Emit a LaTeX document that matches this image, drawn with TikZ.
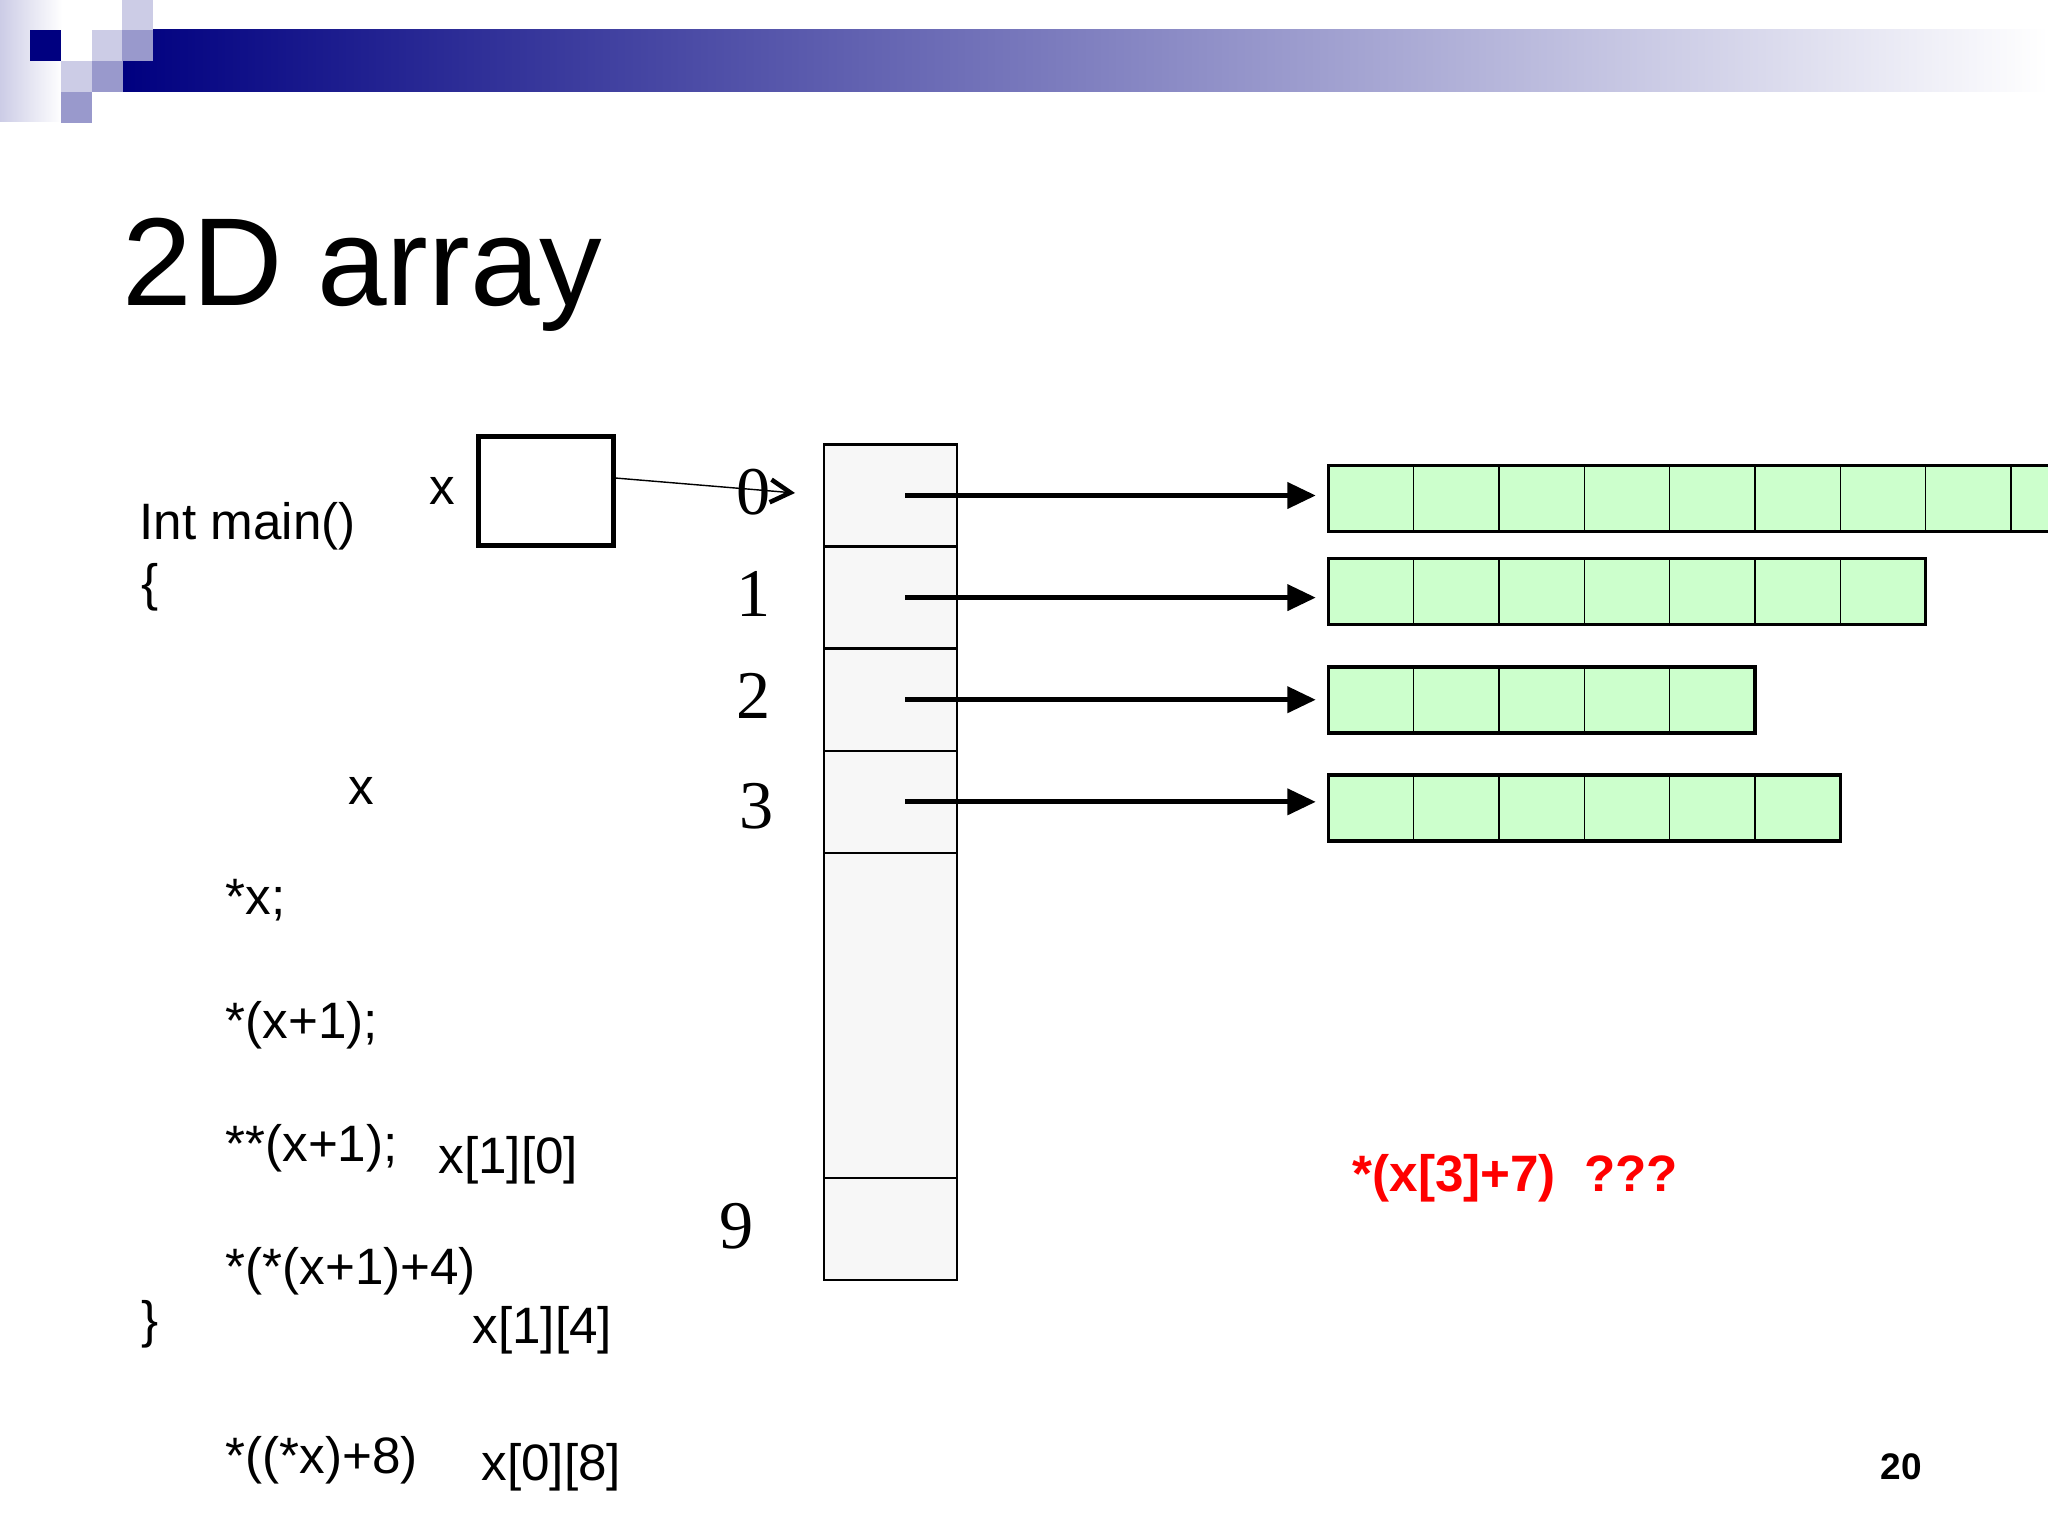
\documentclass[tikz,border=0pt]{standalone}
\usepackage{fontspec}
\setmainfont{Liberation Sans}
\newfontfamily\numfont{Liberation Serif}
\usepackage{tikz}
\usetikzlibrary{                          % TikZ libraries
                arrows.meta,              % .
                positioning,              % .
                calc}
\usepackage{xcolor}
\definecolor{navy}{RGB}{0,0,128}
\definecolor{lavlight}{RGB}{204,204,230}
\definecolor{lavmid}{RGB}{153,153,204}
\definecolor{cellgrey}{RGB}{247,247,247}
\definecolor{rowgreen}{RGB}{204,255,204}

\begin{document}
\begin{tikzpicture}[x=0.3515625pt,y=-0.3515625pt
                    ]
                % define styles
\tikzset{code/.style={anchor=base west,
                       inner sep=0,
                       font=\fontsize{18}{20}\selectfont,
                       },
         idx/.style={anchor=base,
                       inner sep=0,
                       font=\numfont\fontsize{24}{26}\selectfont,
                       },
         slot/.style={rectangle,
                       draw=black,
                       fill=cellgrey,
                       line width=0.9pt,
                       outer sep=0,
                       minimum width=46.8pt,
                       minimum height=35.9pt,
                       },
         elem/.style={rectangle,
                       draw=black,
                       fill=rowgreen,
                       line width=0.5pt,
                       outer sep=0,
                       minimum width=30pt,
                       minimum height=23.2pt,
                       },
         ptr/.style={line width=1.8pt,
                       -{Triangle[length=10pt,width=9pt]},
                       shorten >=4.4pt,
                       }
}

% page
\fill[white] (0,0) rectangle (2048,1536);
\useasboundingbox (0,0) rectangle (2048,1536);

% header bar
\shade[left color=lavlight, right color=white] (0,0) rectangle (62,122);
\shade[left color=navy, right color=white] (123,30) rectangle (2048,92);
\foreach \xx/\yy/\col in {30/30/navy, 92/30/lavlight, 122/0/lavlight, 122/30/lavmid,
                          61/61/lavlight, 92/61/lavmid, 61/92/lavmid}
    \fill[\col] (\xx,\yy) rectangle ++(31,31);

% title
\node[anchor=base west, inner sep=0, font=\fontsize{44}{48}\selectfont] (title) at (122,306) {2D array};

% code lines
\node[code] (main)   at (139,540)  {Int main()};
\node[code] (lbrace) at (141,601)  {\{};
\node[code] (xmid)   at (348,804)  {x};
\node[code] (deref0) at (225,914)  {*x;};
\node[code] (deref1) at (225,1038) {*(x+1);};
\node[code] (deref2) at (225,1161) {**(x+1);};
\node[code] (elem10) at (438,1173) {x[1][0]};
\node[code] (deref3) at (225,1284) {*(*(x+1)+4)};
\node[code] (rbrace) at (141,1337) {\}};
\node[code] (elem14) at (472,1343) {x[1][4]};
\node[code] (deref4) at (225,1473) {*((*x)+8)};
\node[code] (elem08) at (481,1480) {x[0][8]};

% pointer variable
\node[code] (xlab) at (429,505) {x};
\node[draw, line width=1.75pt, inner sep=0, outer sep=0,
      minimum width=47.5pt, minimum height=38.3pt] (xbox) at (546,491) {};

% array of row pointers
\node[slot] (slot0) at (890.5,495.5) {};
\foreach \i [evaluate=\i as \prev using int(\i-1)] in {1,2,3}
    \node[slot, below=0pt of slot\prev] (slot\i) {};
\node[slot, below=0pt of slot3, minimum height=114.3pt] (slotgap) {};
\node[slot, below=0pt of slotgap] (slot9) {};

% index labels
\foreach \lbl/\xx/\yy in {0/754/515, 1/754/617, 2/754/719, 3/757/828, 9/737/1248}
    \node[idx] (lab\lbl) at (\xx,\yy) {\lbl};

% rows
\foreach \r/\n/\yy in {0/9/498.5, 1/7/591.5, 2/5/700, 3/6/808} {
    \node[elem] (row\r-1) at (1371,\yy) {};
    \foreach \c [evaluate=\c as \prev using int(\c-1)] in {2,...,\n}
        \node[elem, right=0pt of row\r-\prev] (row\r-\c) {};
    \draw[line width=1.1pt] (row\r-1.north west) rectangle (row\r-\n.south east);
}

% row pointers
\foreach \i in {0,...,3} {
    \coordinate (src\i) at ($(slot\i.center)+(14.5,0)$);
    \draw[ptr] (src\i) -- (src\i -| row\i-1.west);
}

% x points to the first slot
\coordinate (tip) at (795,493);
\draw[line width=0.5pt, -{Straight Barb[length=7pt,width=8pt,line width=1.6pt]}] (xbox.11) -- (tip);

% question
\node[anchor=base west, inner sep=0, text=red,
      font=\bfseries\fontsize{18}{20}\selectfont] (quest) at (1352,1191) {*(x[3]+7)\ \ ???};

% page number
\node[anchor=base west, inner sep=0,
      font=\bfseries\fontsize{13}{15}\selectfont] (pagenum) at (1880,1479) {20};

\end{tikzpicture}
\end{document}
